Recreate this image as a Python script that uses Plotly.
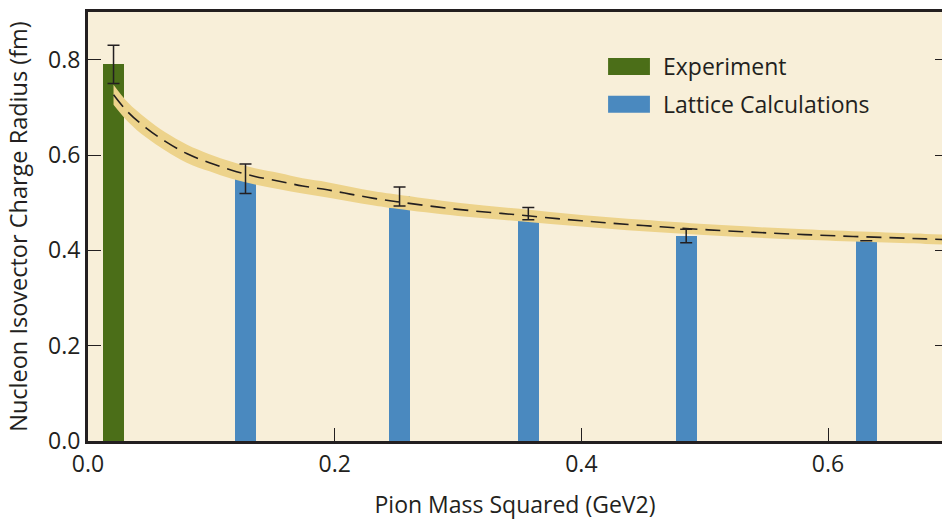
import plotly.graph_objects as go

# ---- data ----
exp_x = [0.0207]
exp_y = [0.79]
exp_err = [0.04]

lat_x = [0.1277, 0.2526, 0.357, 0.485, 0.631]
lat_y = [0.55, 0.513, 0.477, 0.43, 0.42]
lat_err = [0.031, 0.020, 0.013, 0.014, None]

fit_x = [0.0207, 0.0324, 0.047, 0.063, 0.080, 0.0985, 0.1165, 0.1354, 0.155, 0.174,
         0.194, 0.2125, 0.2307, 0.2505, 0.30, 0.35, 0.40, 0.45, 0.503,
         0.581, 0.679, 0.70]
fit_y = [0.7265, 0.690, 0.657, 0.628, 0.603, 0.5837, 0.568, 0.555, 0.545, 0.535,
         0.527, 0.518, 0.5095, 0.502, 0.486, 0.474, 0.462, 0.452, 0.443,
         0.433, 0.424, 0.422]
fit_half = [0.021, 0.020, 0.020, 0.019, 0.019, 0.018, 0.018, 0.017, 0.017, 0.016,
            0.016, 0.0155, 0.015, 0.015, 0.014, 0.013, 0.012, 0.012, 0.0115,
            0.011, 0.0105, 0.0105]

x_ticks = [0.0, 0.2, 0.4, 0.6]
y_ticks = [0.0, 0.2, 0.4, 0.6, 0.8]

GREEN = "#4B6E18"
BLUE = "#4A89BF"
BAND = "#EDD38B"
BG = "#F8EFD9"
INK = "#231F20"
TXT_FONT = "Open Sans, Lato, sans-serif"
TICK_FONT = "Open Sans, Lato, sans-serif"

fit_lo = [y - h for y, h in zip(fit_y, fit_half)]
fit_hi = [y + h for y, h in zip(fit_y, fit_half)]

fig = go.Figure()
fig.add_trace(go.Bar(x=exp_x, y=exp_y, width=0.017, marker_color=GREEN,
                     marker_line_width=0, name="Experiment", showlegend=False))
fig.add_trace(go.Bar(x=lat_x, y=lat_y, width=0.017, marker_color=BLUE,
                     marker_line_width=0, name="Lattice Calculations", showlegend=False))

# uncertainty band
fig.add_trace(go.Scatter(x=fit_x, y=fit_lo, mode="lines", line=dict(width=0, color=BAND, shape="spline"),
                         showlegend=False, hoverinfo="skip"))
fig.add_trace(go.Scatter(x=fit_x, y=fit_hi, mode="lines", line=dict(width=0, color=BAND, shape="spline"),
                         fill="tonexty", fillcolor=BAND, showlegend=False, hoverinfo="skip"))
# dashed fit line
fig.add_trace(go.Scatter(x=fit_x, y=fit_y, mode="lines",
                         line=dict(width=1.6, color=INK, dash="15px,8px", shape="spline"),
                         showlegend=False, hoverinfo="skip"))

# error bars drawn on top of the band (on the overlaying axis with identical range)
err_x = exp_x + lat_x
err_y = exp_y + lat_y
err_v = exp_err + lat_err
fig.add_trace(go.Scatter(x=err_x, y=err_y, mode="markers", marker=dict(size=1, opacity=0),
                         yaxis="y2",
                         error_y=dict(type="data", array=err_v, visible=True, color=INK,
                                      thickness=1.5, width=6),
                         showlegend=False, hoverinfo="skip"))

# custom legend
fig.add_shape(type="rect", xref="paper", yref="paper", x0=0.609, x1=0.658, y0=0.853, y1=0.893,
              fillcolor=GREEN, line_width=0)
fig.add_shape(type="rect", xref="paper", yref="paper", x0=0.609, x1=0.658, y0=0.765, y1=0.805,
              fillcolor=BLUE, line_width=0)
fig.add_annotation(xref="paper", yref="paper", x=0.671, y=0.874, text="Experiment", showarrow=False,
                   xanchor="left", yanchor="middle", font=dict(family=TXT_FONT, size=23, color=INK))
fig.add_annotation(xref="paper", yref="paper", x=0.671, y=0.785, text="Lattice Calculations",
                   showarrow=False, xanchor="left", yanchor="middle",
                   font=dict(family=TXT_FONT, size=23, color=INK))

fig.update_layout(
    width=942, height=520,
    margin=dict(l=88, r=0, t=12, b=79),
    paper_bgcolor="white", plot_bgcolor=BG,
    bargap=0, showlegend=False,
    xaxis=dict(range=[0, 0.6924], tickvals=x_ticks, ticktext=[f"{v:.1f}" for v in x_ticks],
               ticks="inside", ticklen=13, tickwidth=1, tickcolor=INK,
               showline=True, linewidth=3, linecolor=INK, mirror=True,
               showgrid=False, zeroline=False,
               tickfont=dict(family=TICK_FONT, size=23, color=INK),
               title=dict(text="Pion Mass Squared (GeV2)", standoff=22,
                          font=dict(family=TXT_FONT, size=23, color=INK))),
    yaxis=dict(range=[0, 0.9], tickvals=y_ticks, ticktext=[f"{v:.1f}" for v in y_ticks],
               ticks="inside", ticklen=13, tickwidth=1, tickcolor=INK,
               showline=True, linewidth=3, linecolor=INK,
               showgrid=False, zeroline=False,
               tickfont=dict(family=TICK_FONT, size=23, color=INK),
               title=dict(text="Nucleon Isovector Charge Radius (fm)", standoff=14,
                          font=dict(family=TXT_FONT, size=23.5, color=INK))),
    yaxis2=dict(range=[0, 0.9], overlaying="y", side="right", tickvals=y_ticks,
                ticks="inside", ticklen=7, tickwidth=1, tickcolor=INK,
                showticklabels=False, showline=False, showgrid=False, zeroline=False),
)

fig.write_html("out.html", config={"displayModeBar": False},
               post_script="document.body.style.margin='0';document.body.style.overflow='hidden';")
